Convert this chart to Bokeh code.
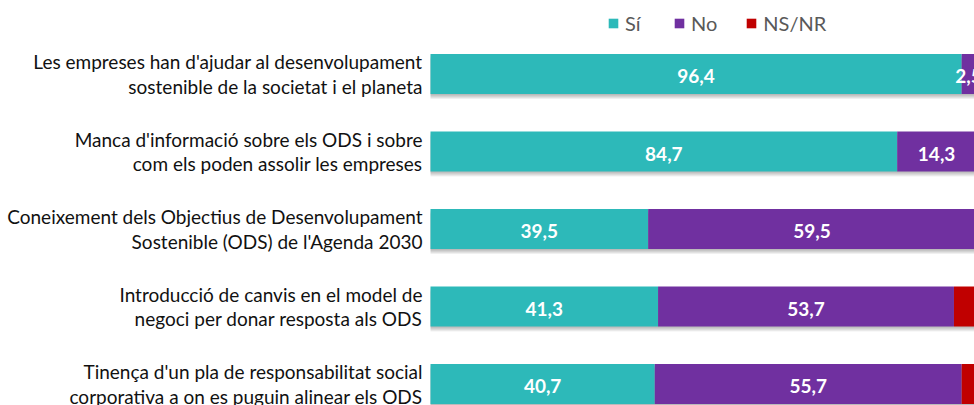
from bokeh.plotting import figure
from bokeh.models import Range1d, Legend, LegendItem, ColumnDataSource
from bokeh.core.properties import value
from bokeh.embed import file_html
from bokeh.resources import INLINE

categories = [
    "Les empreses han d'ajudar al desenvolupament\nsostenible de la societat i el planeta",
    "Manca d'informació sobre els ODS i sobre\ncom els poden assolir les empreses",
    "Coneixement dels Objectius de Desenvolupament\nSostenible (ODS) de l'Agenda 2030",
    "Introducció de canvis en el model de\nnegoci per donar resposta als ODS",
    "Tinença d'un pla de responsabilitat social\ncorporativa a on es puguin alinear els ODS",
]
si = [96.4, 84.7, 39.5, 41.3, 40.7]
no = [2.5, 14.3, 59.5, 53.7, 55.7]
nsnr = [1.1, 1.0, 1.0, 5.0, 3.6]
series_names = ["Sí", "No", "NS/NR"]

TEAL = "#2DB9B9"
PURPLE = "#7030A0"
RED = "#C00000"

ys = list(range(len(categories)))
px_per_row = 77.5
bar_h = 40 / px_per_row
x0 = 430
ppu = 5.51

W, H = 974, 405
p = figure(width=W, height=H, output_backend="svg", toolbar_location=None,
           x_axis_type=None, y_axis_type=None,
           x_range=Range1d(-x0 / ppu, (W - x0) / ppu),
           y_range=Range1d(4 + (H - 383.5) / px_per_row, -73.5 / px_per_row),
           min_border=0, outline_line_color=None)
p.xgrid.visible = False
p.ygrid.visible = False

totals = [a + b + c for a, b, c in zip(si, no, nsnr)]
# drop shadow
for k in range(1, 6):
    p.hbar(y=[y + k / px_per_row for y in ys], left=0, right=totals, height=bar_h,
           color="black", alpha=0.06, line_color=None)

src = ColumnDataSource(dict(
    y=ys,
    si_l=[0] * len(si), si_r=si,
    no_l=si, no_r=[a + b for a, b in zip(si, no)],
    ns_l=[a + b for a, b in zip(si, no)], ns_r=totals,
))
r_si = p.hbar(y="y", left="si_l", right="si_r", height=bar_h, color=TEAL, line_color=None, source=src)
r_no = p.hbar(y="y", left="no_l", right="no_r", height=bar_h, color=PURPLE, line_color=None, source=src)
r_ns = p.hbar(y="y", left="ns_l", right="ns_r", height=bar_h, color=RED, line_color=None, source=src)

fmt = lambda v: f"{v:.1f}".replace(".", ",")
lab_x = [v / 2 for v in si] + [a + b / 2 for a, b in zip(si, no)]
lab_y = ys + ys
lab_t = [fmt(v) for v in si] + [fmt(v) for v in no]
p.text(x=lab_x, y=lab_y, text=lab_t, text_align="center", text_baseline="middle", y_offset=2,
       text_font=value("Lato"), text_font_style="bold", text_font_size="19px", text_color="white")

p.text(x=[-8 / ppu] * len(ys), y=ys, text=categories, text_align="right", text_baseline="middle",
       text_font=value("Lato"), text_font_size="19px", text_color="#111111", text_line_height=1.05)

legend = Legend(items=[LegendItem(label=series_names[0], renderers=[r_si]),
                       LegendItem(label=series_names[1], renderers=[r_no]),
                       LegendItem(label=series_names[2], renderers=[r_ns])],
                orientation="horizontal", location=(607, 370),
                glyph_width=12, glyph_height=12, label_standoff=6, spacing=28,
                label_text_font="Lato", label_text_font_size="20px", label_text_color="#595959",
                border_line_color=None, background_fill_alpha=0, padding=0, margin=0)
p.add_layout(legend)

open("out.html", "w").write(file_html(p, INLINE))
